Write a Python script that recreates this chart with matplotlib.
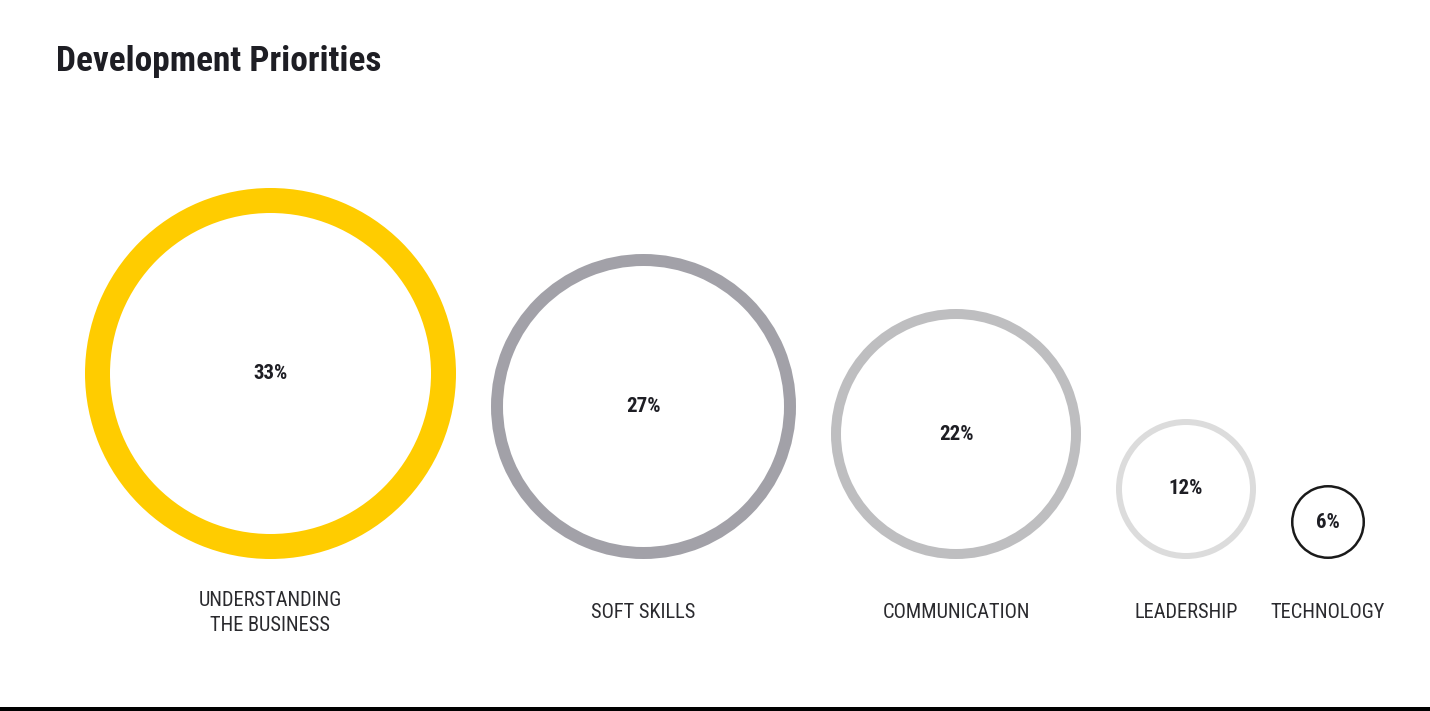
import numpy as np
import matplotlib
matplotlib.use("Agg")
import matplotlib.pyplot as plt
from matplotlib.patches import Wedge, Rectangle

# data
categories = ["UNDERSTANDING\nTHE BUSINESS", "SOFT SKILLS", "COMMUNICATION",
              "LEADERSHIP", "TECHNOLOGY"]
values = [33, 27, 22, 12, 6]

# styles
ring_colors = ["#FFCC00", "#A2A1A8", "#BEBEC0", "#DCDCDC", "#1A1A1A"]
ring_widths = [25, 12, 10, 6, 2.5]

W, H = 1430, 711
R0, SCALE = 4, 5.5   # radius = R0 + SCALE * value (px)
GAP = 35             # px between neighbouring circles
LEFT = 85            # left edge of first circle
BASE = 559           # circles sit on this line
LABEL_Y = 613

fonts = ["Roboto Condensed", "Roboto", "DejaVu Sans"]

fig = plt.figure(figsize=(W / 100, H / 100), dpi=100)
ax = fig.add_axes([0, 0, 1, 1])
ax.set_xlim(0, W)
ax.set_ylim(H, 0)
ax.set_aspect("equal")
ax.axis("off")

radii = R0 + np.array(values) * SCALE
x = LEFT
for i, (v, r) in enumerate(zip(values, radii)):
    if i > 0:
        x += radii[i - 1] + GAP + r
    else:
        x += r
    cy = BASE - r
    ax.add_patch(Wedge((x, cy), r, 0, 360, width=ring_widths[i],
                       facecolor=ring_colors[i], edgecolor="none"))
    ax.text(x, cy, f"{v}%", ha="center", va="center", fontsize=15,
            fontweight="bold", color="#1E1E24", family=fonts)
    ax.text(x, LABEL_Y, categories[i], ha="center", va="center",
            multialignment="center", fontsize=14.7, color="#2A2A2E",
            linespacing=1.45, family=fonts)

ax.text(56, 61, "Development Priorities", ha="left", va="center",
        fontsize=25.5, fontweight="bold", color="#1E1E24", family=fonts)

# bottom rule
ax.add_patch(Rectangle((0, 707), W, 4, facecolor="black", edgecolor="none"))

fig.savefig("out.png", dpi=100, facecolor="white")
